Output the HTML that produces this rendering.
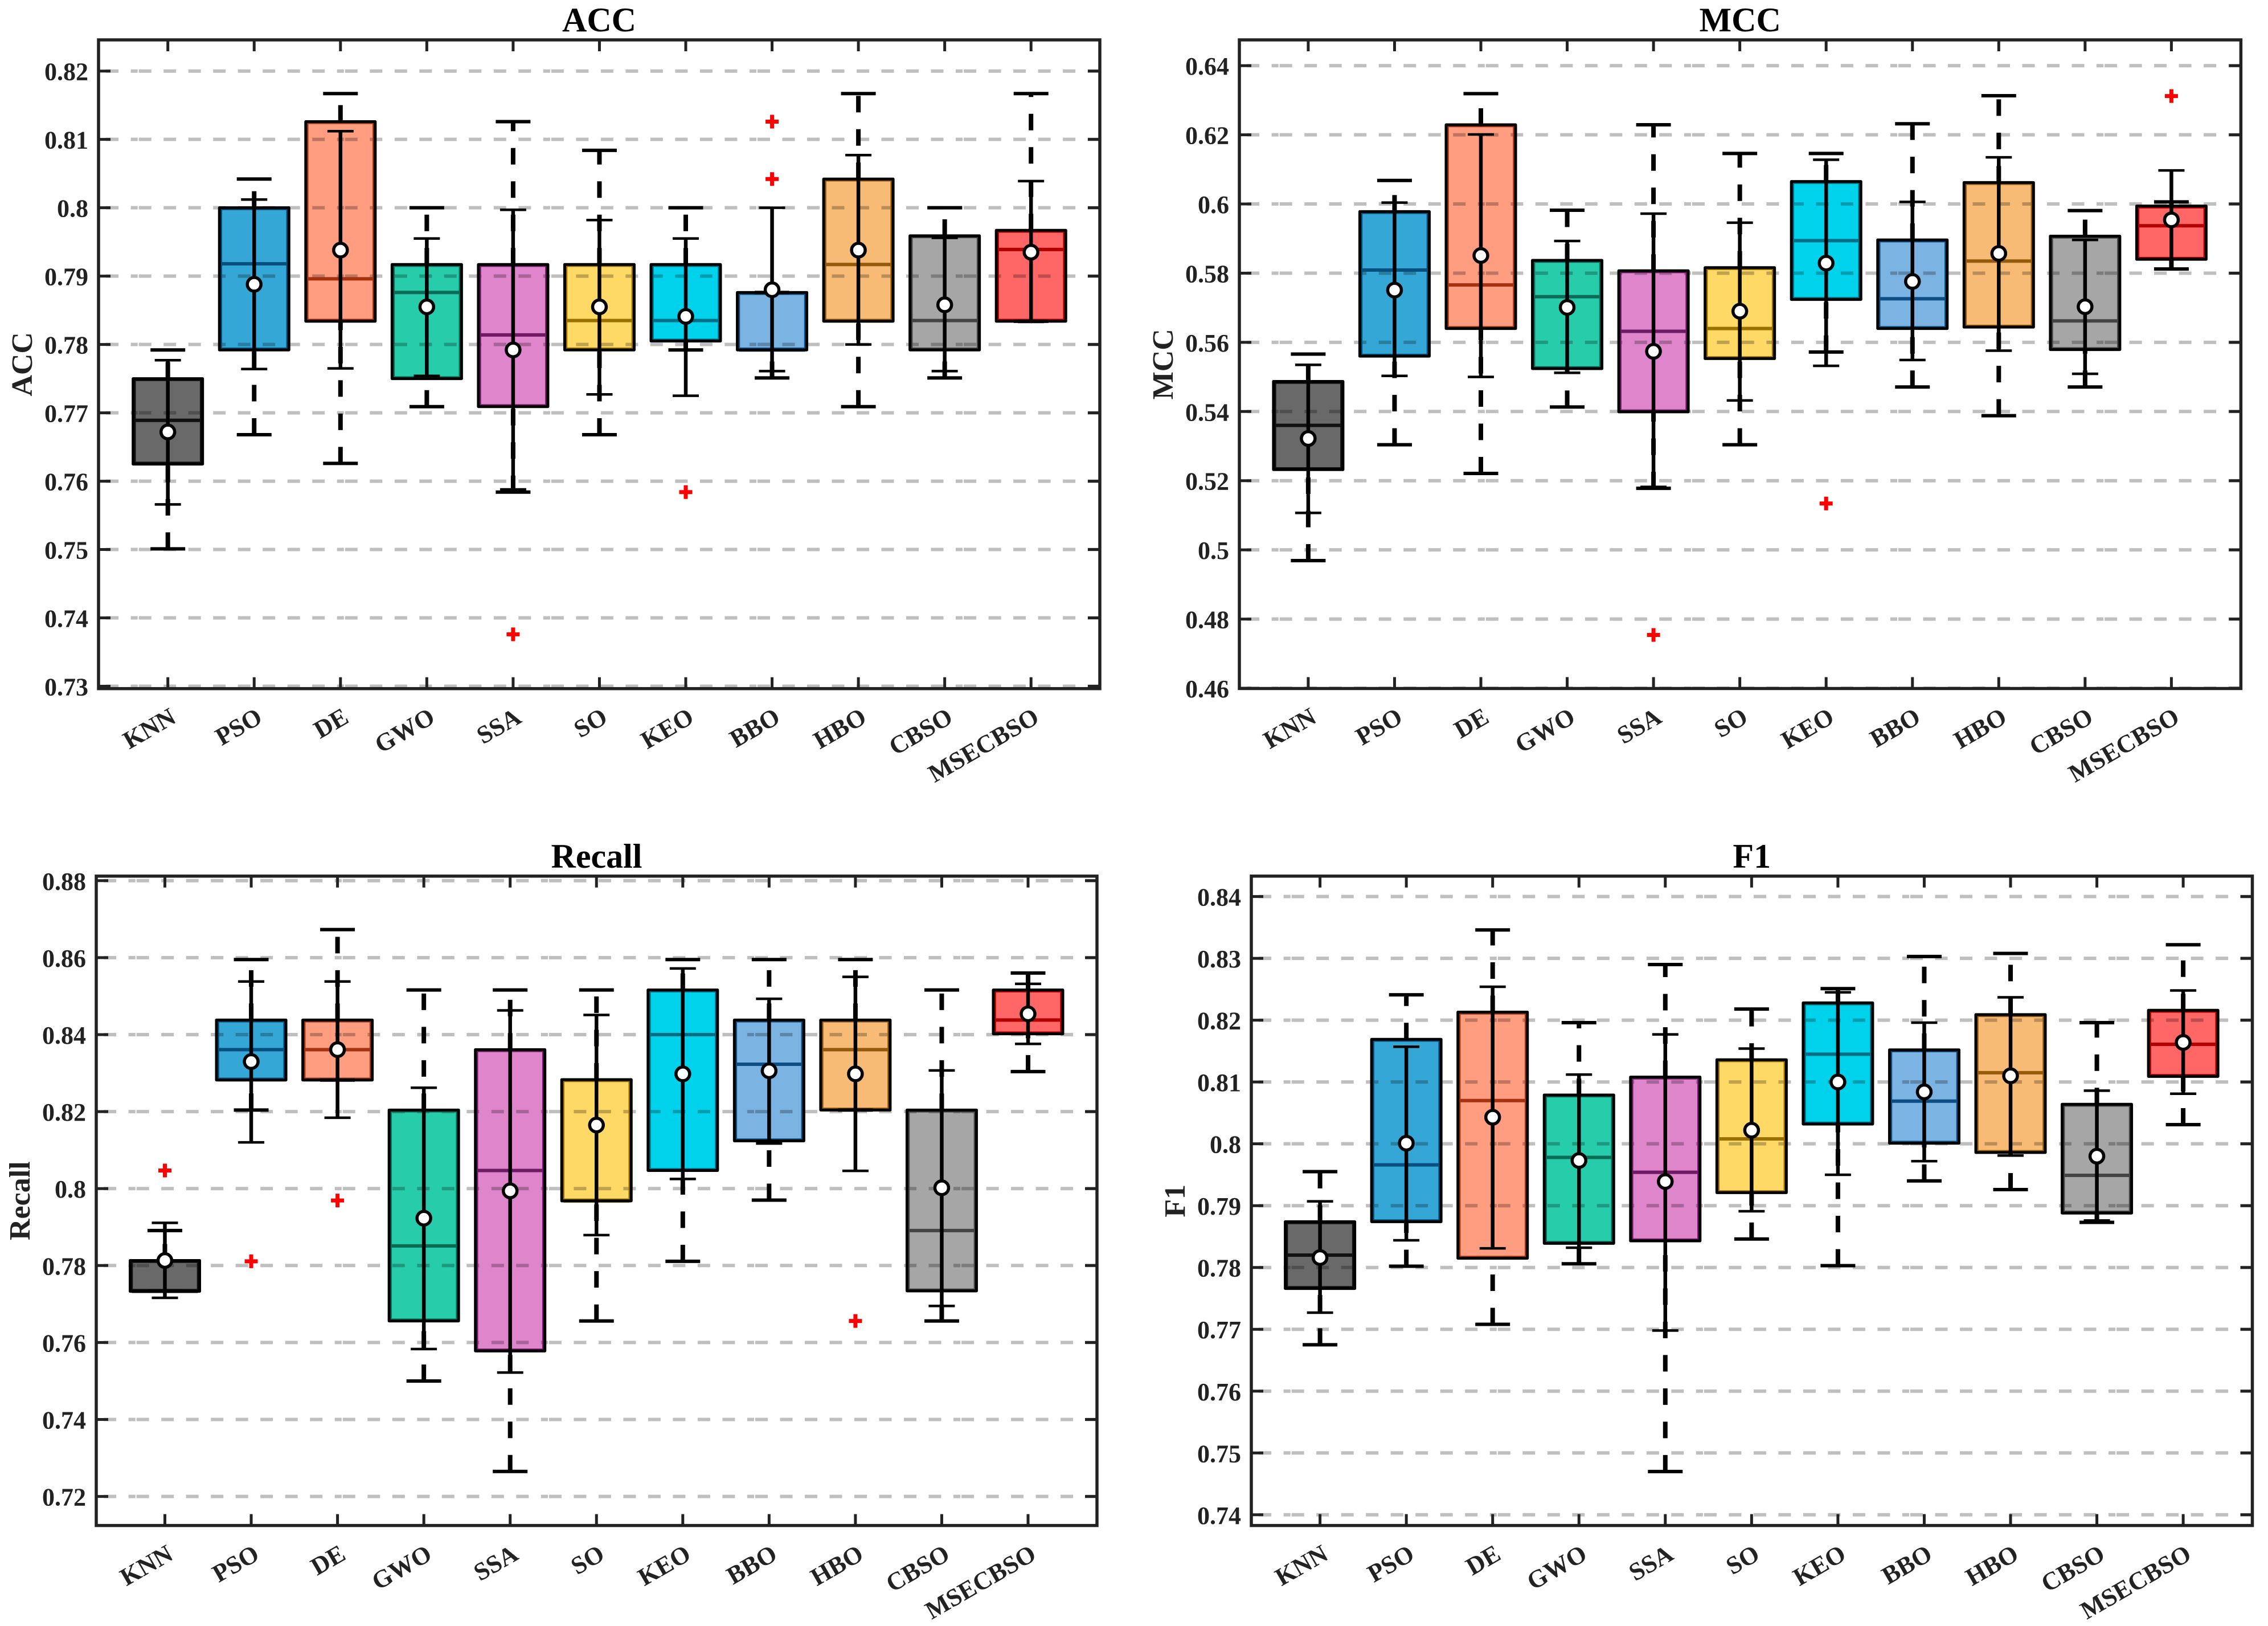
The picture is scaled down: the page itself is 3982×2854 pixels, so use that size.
<!DOCTYPE html>
<html lang="en">
<head>
<meta charset="utf-8">
<title>Box plots of ACC, MCC, Recall and F1</title>
<style>
html,body{margin:0;padding:0;background:#fff;width:3982px;height:2854px;overflow:hidden}
svg{display:block;isolation:isolate}
text{font-family:"Liberation Serif",serif;font-weight:bold}
</style>
</head>
<body>
<svg id="figure" xmlns="http://www.w3.org/2000/svg" width="3982" height="2854" viewBox="0 0 3982 2854">
<rect x="0" y="0" width="3982" height="2854" fill="#ffffff"/>
</svg>
<script>
const categories = ['KNN','PSO','DE','GWO','SSA','SO','KEO','BBO','HBO','CBSO','MSECBSO'];

const accTicks = [0.82,0.81,0.8,0.79,0.78,0.77,0.76,0.75,0.74,0.73];
const accLow    = [0.7501,0.7668,0.7626,0.7709,0.7584,0.7668,0.7792,0.7751,0.7709,0.7751,0.7834];
const accQ1     = [0.7625,0.7792,0.7834,0.775,0.7709,0.7792,0.7805,0.7792,0.7834,0.7792,0.7834];
const accMedian = [0.7689,0.7918,0.7896,0.7876,0.7814,0.7835,0.7835,0.7792,0.7917,0.7835,0.7939];
const accQ3     = [0.775,0.8,0.8126,0.7917,0.7917,0.7917,0.7917,0.7876,0.8042,0.7959,0.7967];
const accHigh   = [0.7792,0.8042,0.8167,0.8,0.8126,0.8084,0.8,0.7876,0.8167,0.8,0.8167];
const accMean   = [0.7672,0.7888,0.7938,0.7855,0.7792,0.7855,0.7841,0.788,0.7938,0.7858,0.7935];
const accStdLow = [0.7566,0.7764,0.7765,0.7754,0.7588,0.7727,0.7725,0.7761,0.78,0.7761,0.7833];
const accStdHigh= [0.7777,0.8012,0.8112,0.7955,0.7997,0.7982,0.7955,0.8,0.8077,0.7956,0.8039];
const accOutliers = [[],[],[],[],[0.7376],[],[0.7584],[0.8126,0.8042],[],[],[]];

const mccTicks = [0.64,0.62,0.6,0.58,0.56,0.54,0.52,0.5,0.48,0.46];
const mccLow    = [0.4969,0.5304,0.5221,0.5413,0.5178,0.5304,0.5572,0.5471,0.5388,0.5471,0.5812];
const mccQ1     = [0.5232,0.556,0.564,0.5524,0.5399,0.5553,0.5724,0.564,0.5644,0.5579,0.584];
const mccMedian = [0.536,0.5809,0.5766,0.5732,0.5632,0.564,0.5894,0.5726,0.5835,0.5662,0.5937];
const mccQ3     = [0.5487,0.5978,0.6229,0.5837,0.5807,0.5816,0.6065,0.5896,0.6062,0.5907,0.5994];
const mccHigh   = [0.5566,0.6068,0.6319,0.5982,0.6229,0.6146,0.6146,0.6232,0.6313,0.5981,0.6006];
const mccMean   = [0.5322,0.5751,0.5851,0.5701,0.5574,0.569,0.5829,0.5776,0.5857,0.5703,0.5954];
const mccStdLow = [0.5107,0.5503,0.55,0.5512,0.5182,0.5432,0.5532,0.5549,0.5576,0.5509,0.5812];
const mccStdHigh= [0.5535,0.6004,0.6201,0.5893,0.5972,0.5946,0.6128,0.6006,0.6135,0.5896,0.6097];
const mccOutliers = [[],[],[],[],[0.4754],[],[0.5134],[],[],[],[0.6312]];

const recallTicks = [0.88,0.86,0.84,0.82,0.8,0.78,0.76,0.74,0.72];
const recallLow    = [0.7733,0.8204,0.8282,0.75,0.7265,0.7656,0.7811,0.797,0.8204,0.7656,0.8304];
const recallQ1     = [0.7733,0.8282,0.8282,0.7656,0.7578,0.7968,0.8047,0.8124,0.8204,0.7734,0.8402];
const recallMedian = [0.7733,0.8361,0.8361,0.7851,0.8047,0.7968,0.84,0.8323,0.8361,0.7891,0.8438];
const recallQ3     = [0.7813,0.8438,0.8438,0.8204,0.8361,0.8283,0.8516,0.8438,0.8438,0.8204,0.8516];
const recallHigh   = [0.7891,0.8595,0.8673,0.8516,0.8516,0.8516,0.8595,0.8595,0.8595,0.8516,0.856];
const recallMean   = [0.7813,0.833,0.8361,0.7923,0.7994,0.8165,0.8298,0.8306,0.8298,0.8002,0.8454];
const recallStdLow = [0.7716,0.812,0.8184,0.7583,0.7522,0.7879,0.8025,0.8117,0.8046,0.7695,0.8376];
const recallStdHigh= [0.7911,0.8538,0.8538,0.8262,0.8463,0.8451,0.8572,0.8493,0.855,0.8307,0.8532];
const recallOutliers = [[0.8047],[0.7811],[0.7969],[],[],[],[],[],[0.7656],[],[]];

const f1Ticks = [0.84,0.83,0.82,0.81,0.8,0.79,0.78,0.77,0.76,0.75,0.74];
const f1Low    = [0.7675,0.7802,0.7708,0.7806,0.747,0.7846,0.7803,0.794,0.7926,0.7873,0.8031];
const f1Q1     = [0.7766,0.7874,0.7815,0.7839,0.7843,0.7921,0.8032,0.8001,0.7986,0.7888,0.8109];
const f1Median = [0.782,0.7966,0.807,0.7978,0.7954,0.8008,0.8145,0.8069,0.8115,0.7949,0.8161];
const f1Q3     = [0.7874,0.8169,0.8213,0.8079,0.8108,0.8136,0.8228,0.8152,0.8209,0.8064,0.8216];
const f1High   = [0.7955,0.8241,0.8346,0.8196,0.829,0.8218,0.8251,0.8303,0.8308,0.8196,0.8322];
const f1Mean   = [0.7816,0.8001,0.8043,0.7973,0.7939,0.8022,0.81,0.8084,0.811,0.798,0.8164];
const f1StdLow = [0.7727,0.7844,0.7831,0.7832,0.7698,0.7891,0.795,0.7972,0.7981,0.7876,0.8081];
const f1StdHigh= [0.7907,0.8157,0.8254,0.8112,0.8177,0.8154,0.8245,0.8196,0.8237,0.8086,0.8248];
const f1Outliers = [[],[],[],[],[],[],[],[],[],[],[]];

const fillColors = ['#696969','#35a7d6','#ff9d80','#27ccab','#de85cb','#ffd966','#00d2ec','#7bb4e3','#f8bb75','#a6a6a6','#ff6666'];
const edgeColors = ['#111111','#06507f','#a5330f','#0b6b56','#6f1a65','#9a7000','#006e85','#0d4f84','#965a0c','#444444','#b20000'];

const SVGNS = 'http://www.w3.org/2000/svg';
const figure = document.getElementById('figure');

function make(parent, tag, attrs, content) {
  const node = document.createElementNS(SVGNS, tag);
  for (const key in attrs) node.setAttribute(key, attrs[key]);
  if (content !== undefined) node.textContent = content;
  parent.appendChild(node);
  return node;
}

function drawPanel(p) {
  const slug = p.title.toLowerCase();
  const xAxis = i => p.firstTick + i * p.tickStep;
  const yAxis = v => p.y0 + (v - p.v0) * (p.y1 - p.y0) / (p.v1 - p.v0);

  const panel = make(figure, 'g', {});
  
  

  const title = make(panel, 'text', {x: (p.left + p.right) / 2, y: p.top - 15, 'text-anchor': 'middle', 'font-size': 60, fill: '#000'}, p.title);
  
  

  const yTitleX = p.left - 117;
  const yTitleY = (p.top + p.bottom) / 2;
  const yTitle = make(panel, 'text', {x: yTitleX, y: yTitleY, 'text-anchor': 'middle', 'font-size': 52, fill: '#222', transform: 'rotate(-90 ' + yTitleX + ' ' + yTitleY + ')'}, p.title);
  
  

  p.ticks.forEach(t => {
    const grid = make(panel, 'line', {x1: p.left, x2: p.right, y1: yAxis(t), y2: yAxis(t), stroke: '#bfbfbf', 'stroke-width': 6,
      'stroke-dasharray': '22 21.5 22 21.5 22 21.5 22 21.5 22 21.5 22 21.5 22 21.5 22 21.5 12.1 2', 'stroke-dashoffset': 291.4});
    
    
  });

  categories.forEach((cat, i) => {
    const cx = xAxis(i);
    const name = slug + '-' + cat.toLowerCase();
    const g = make(panel, 'g', {});
    
    

    const yq1 = yAxis(p.q1[i]);
    const yq3 = yAxis(p.q3[i]);
    const yLow = yAxis(p.low[i]);
    const yHigh = yAxis(p.high[i]);

    const fill = make(g, 'rect', {x: cx - 60, y: yq3, width: 120, height: yq1 - yq3, fill: fillColors[i], style: 'mix-blend-mode:multiply'});
    
    

    const median = make(g, 'line', {x1: cx - 58, x2: cx + 58, y1: yAxis(p.median[i]), y2: yAxis(p.median[i]), stroke: edgeColors[i], 'stroke-width': 6});
    
    

    const innerEdge = make(g, 'rect', {x: cx - 58, y: yq3 + 2.5, width: 116, height: Math.max(yq1 - yq3 - 5, 0), fill: 'none', stroke: edgeColors[i], 'stroke-width': 3.5});
    
    

    const edge = make(g, 'rect', {x: cx - 61, y: yq3, width: 122, height: yq1 - yq3, fill: 'none', stroke: '#000', 'stroke-width': 5, 'stroke-linejoin': 'round'});
    
    

    const lowerWhisker = make(g, 'line', {x1: cx, x2: cx, y1: yLow, y2: yq1, stroke: '#000', 'stroke-width': 8, 'stroke-dasharray': '29 29.5'});
    
    

    const upperWhisker = make(g, 'line', {x1: cx, x2: cx, y1: yq3, y2: yHigh, stroke: '#000', 'stroke-width': 8, 'stroke-dasharray': '29 29.5'});
    
    

    const lowerCap = make(g, 'line', {x1: cx - 30.5, x2: cx + 30.5, y1: yLow, y2: yLow, stroke: '#000', 'stroke-width': 6});
    
    

    const upperCap = make(g, 'line', {x1: cx - 30.5, x2: cx + 30.5, y1: yHigh, y2: yHigh, stroke: '#000', 'stroke-width': 6});
    
    

    const yStdLow = yAxis(p.stdLow[i]);
    const yStdHigh = yAxis(p.stdHigh[i]);
    const stdBar = make(g, 'line', {x1: cx, x2: cx, y1: yStdLow, y2: yStdHigh, stroke: '#000', 'stroke-width': 6.5});
    
    

    const stdLowCap = make(g, 'line', {x1: cx - 23, x2: cx + 23, y1: yStdLow, y2: yStdLow, stroke: '#000', 'stroke-width': 4.5});
    
    

    const stdHighCap = make(g, 'line', {x1: cx - 23, x2: cx + 23, y1: yStdHigh, y2: yStdHigh, stroke: '#000', 'stroke-width': 4.5});
    
    

    const mean = make(g, 'circle', {cx: cx, cy: yAxis(p.mean[i]), r: 12, fill: '#fff', stroke: '#000', 'stroke-width': 5.5});
    
    

    p.outliers[i].forEach(v => {
      const oy = yAxis(v);
      const out = make(g, 'path', {d: 'M' + (cx - 11.5) + ' ' + oy + 'H' + (cx + 11.5) + 'M' + cx + ' ' + (oy - 12) + 'V' + (oy + 12), stroke: '#ff0000', 'stroke-width': 7, fill: 'none'});
      
      
    });

    const lx = cx + 17;
    const ly = p.bottom + 58;
    const label = make(panel, 'text', {x: lx, y: ly, 'text-anchor': 'end', 'font-size': 44, fill: '#222', transform: 'rotate(-30 ' + lx + ' ' + ly + ')'}, cat);
    
    

    const tickB = make(panel, 'line', {x1: cx, x2: cx, y1: p.bottom, y2: p.bottom - 20, stroke: '#222', 'stroke-width': 5});
    
    

    const tickT = make(panel, 'line', {x1: cx, x2: cx, y1: p.top, y2: p.top + 20, stroke: '#222', 'stroke-width': 5});
    
    
  });

  p.ticks.forEach(t => {
    const ty = yAxis(t);
    const tickL = make(panel, 'line', {x1: p.left, x2: p.left + 21, y1: ty, y2: ty, stroke: '#222', 'stroke-width': 5});
    
    

    const tickR = make(panel, 'line', {x1: p.right, x2: p.right - 21, y1: ty, y2: ty, stroke: '#222', 'stroke-width': 5});
    
    

    const tickText = make(panel, 'text', {x: p.left - 18, y: ty + 16, 'text-anchor': 'end', 'font-size': 44, fill: '#222'}, String(t));
    
    
  });

  const frame = make(panel, 'rect', {x: p.left, y: p.top, width: p.right - p.left, height: p.bottom - p.top, fill: 'none', stroke: '#222', 'stroke-width': 5.5});
  
  
}

drawPanel({title: 'ACC', left: 173, right: 1931, top: 70, bottom: 1208.7, firstTick: 294.7, tickStep: 151.55,
  v0: 0.82, y0: 124.7, v1: 0.73, y1: 1204.5, ticks: accTicks,
  low: accLow, q1: accQ1, median: accMedian, q3: accQ3, high: accHigh, mean: accMean, stdLow: accStdLow, stdHigh: accStdHigh, outliers: accOutliers});

drawPanel({title: 'MCC', left: 2176, right: 3934.4, top: 70, bottom: 1208.5, firstTick: 2296.9, tickStep: 151.55,
  v0: 0.64, y0: 115.2, v1: 0.46, y1: 1208, ticks: mccTicks,
  low: mccLow, q1: mccQ1, median: mccMedian, q3: mccQ3, high: mccHigh, mean: mccMean, stdLow: mccStdLow, stdHigh: mccStdHigh, outliers: mccOutliers});

drawPanel({title: 'Recall', left: 169, right: 1926, top: 1537.8, bottom: 2677.6, firstTick: 289.5, tickStep: 151.55,
  v0: 0.88, y0: 1545.8, v1: 0.72, y1: 2626.6, ticks: recallTicks,
  low: recallLow, q1: recallQ1, median: recallMedian, q3: recallQ3, high: recallHigh, mean: recallMean, stdLow: recallStdLow, stdHigh: recallStdHigh, outliers: recallOutliers});

drawPanel({title: 'F1', left: 2197, right: 3954.5, top: 1537.8, bottom: 2677.6, firstTick: 2317.6, tickStep: 151.55,
  v0: 0.84, y0: 1573.6, v1: 0.74, y1: 2658.8, ticks: f1Ticks,
  low: f1Low, q1: f1Q1, median: f1Median, q3: f1Q3, high: f1High, mean: f1Mean, stdLow: f1StdLow, stdHigh: f1StdHigh, outliers: f1Outliers});
</script>
</body>
</html>
